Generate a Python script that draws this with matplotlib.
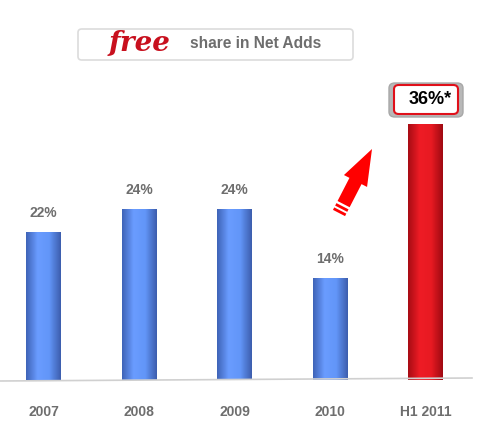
import numpy as np
import matplotlib
matplotlib.use("Agg")
import matplotlib.pyplot as plt
from matplotlib.patches import FancyBboxPatch, Polygon
from matplotlib.colors import LinearSegmentedColormap

categories = ["2007", "2008", "2009", "2010", "H1 2011"]
bar_heights = [20.8, 24.0, 24.0, 14.3, 36.0]   # as drawn in the picture
value_labels = ["22%", "24%", "24%", "14%", "36%*"]

W, H = 479, 432
fig = plt.figure(figsize=(W / 100, H / 100), dpi=100)
fig.patch.set_facecolor("white")

base_px = 380
ax = fig.add_axes([0, (H - base_px) / H, 1, base_px / H])
ax.set_facecolor("none")
for s in ax.spines.values():
    s.set_visible(False)
ax.set_xticks([]); ax.set_yticks([])
pxu = 95.6
x0 = 43.5
xlim = (-x0 / pxu, (W - x0) / pxu)
ylim = (0, base_px / 7.125)

blue_cmap = LinearSegmentedColormap.from_list("b", ["#3f64b8", "#6a9cff", "#6296f8", "#3d5eae"])
red_cmap = LinearSegmentedColormap.from_list("r", ["#a80c14", "#ee1c25", "#e81a22", "#a00a12"])
grad = np.linspace(0, 1, 64).reshape(1, -1)
width = 0.366
x = np.arange(len(categories))
bars = ax.bar(x, bar_heights, width=width, color="none", edgecolor="none")
for i, b in enumerate(bars):
    cmap = red_cmap if i == len(categories) - 1 else blue_cmap
    im = ax.imshow(grad, cmap=cmap, aspect="auto",
                   extent=[b.get_x(), b.get_x() + b.get_width(), 0, b.get_height()],
                   zorder=2)
    im.set_clip_path(b)
ax.set_xlim(*xlim)
ax.set_ylim(*ylim)

gray = "#6e6e6e"
for i, v in enumerate(bar_heights[:-1]):
    ax.annotate(value_labels[i], (x[i], v), xytext=(0, 8.5), textcoords="offset points",
                ha="center", va="bottom", fontsize=10, fontweight="bold", color=gray,
                family="Liberation Sans")

# baseline
fig.add_artist(plt.Line2D([0, 472 / W], [(H - 381) / H, (H - 378) / H],
                          color="#d0d0d0", lw=1.2))

# category labels
for i, c in enumerate(categories):
    xf = (x0 + i * pxu) / W
    fig.text(xf, (H - 412) / H, c, ha="center", va="center", fontsize=10,
             fontweight="bold", color=gray, family="Liberation Sans")

# title box
tb = FancyBboxPatch((78 / W, (H - 60) / H), 275 / W, 31 / H,
                    boxstyle="round,pad=0,rounding_size=0.008",
                    transform=fig.transFigure, facecolor="white",
                    edgecolor="#dcdcdc", lw=1.2)
fig.add_artist(tb)
fig.text(140 / W, (H - 43) / H, "free", ha="center", va="center", fontsize=20,
         fontweight="bold", style="italic", color="#c8101e", family="DejaVu Serif")
fig.text(256 / W, (H - 44) / H, "share in Net Adds", ha="center", va="center",
         fontsize=11.2, fontweight="bold", color=gray, family="Liberation Sans")

# callout box for last bar
outer = FancyBboxPatch((389 / W, (H - 117) / H), 74 / W, 34 / H,
                       boxstyle="round,pad=0,rounding_size=0.012",
                       transform=fig.transFigure, facecolor="#b8b8b8",
                       edgecolor="#a8a8a8", lw=1)
fig.add_artist(outer)
inner = FancyBboxPatch((394 / W, (H - 114) / H), 64 / W, 29 / H,
                       boxstyle="round,pad=0,rounding_size=0.01",
                       transform=fig.transFigure, facecolor="white",
                       edgecolor="#e0101a", lw=1.5)
fig.add_artist(inner)
fig.text(430 / W, (H - 100) / H, value_labels[-1], ha="center", va="center",
         fontsize=13, fontweight="bold", color="black", family="Liberation Sans")

# red arrow
def P(px, py):
    return (px / W, (H - py) / H)

tip = np.array([372.0, 149.0])
base = np.array([339.0, 213.0])
d = tip - base
d = d / np.linalg.norm(d)
n = np.array([-d[1], d[0]])
shaft_w = 6.8
head_w = 13.0
head_len = 36
neck = tip - d * head_len
shaft_start = base + d * 10
pts = [shaft_start + n * shaft_w, neck + n * shaft_w, neck + n * head_w, tip,
       neck - n * head_w, neck - n * shaft_w, shaft_start - n * shaft_w]
fig.add_artist(Polygon([P(*p) for p in pts], closed=True, transform=fig.transFigure,
                       facecolor="#ff0000", edgecolor="none"))
for k in range(2):
    c0 = base + d * (k * 4.8)
    c1 = c0 + d * 2.8
    sp = [c0 + n * shaft_w, c1 + n * shaft_w, c1 - n * shaft_w, c0 - n * shaft_w]
    fig.add_artist(Polygon([P(*p) for p in sp], closed=True, transform=fig.transFigure,
                           facecolor="#ff0000", edgecolor="none"))

fig.savefig("out.png", dpi=100, facecolor="white")
